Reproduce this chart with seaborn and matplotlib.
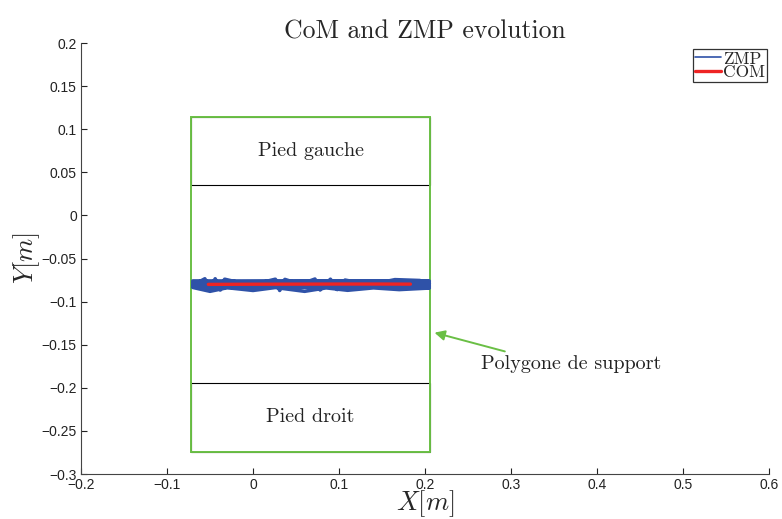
import matplotlib
matplotlib.use("Agg")
import matplotlib.pyplot as plt
import matplotlib.patches as mpatches
import seaborn as sns

# support polygon / feet (m)
poly_x = [-0.072, 0.206]
poly_y = [-0.274, 0.114]
foot_left_y = [0.0355, 0.114]
foot_right_y = [-0.274, -0.194]

# ZMP trajectory (horizontal sweeps with spikes)
zmp_x = [-0.070, 0.205, -0.068, 0.204, -0.070, 0.205, -0.069, 0.204, -0.070,
         -0.056, -0.050, -0.044, -0.038, -0.033, -0.003, 0.026, 0.031, 0.037,
         0.055, 0.072, 0.078, 0.090, 0.098, 0.107, 0.136, 0.165, 0.194, 0.205,
         -0.070, 0.205, -0.070, -0.050, -0.030, 0.000, 0.026, 0.060, 0.085,
         0.110, 0.140, 0.170, 0.205, -0.068, 0.205]
zmp_y = [-0.0760, -0.0762, -0.0772, -0.0775, -0.0785, -0.0787, -0.0797, -0.0800, -0.0810,
         -0.0735, -0.0870, -0.0735, -0.0865, -0.0740, -0.0810, -0.0740, -0.0870, -0.0742,
         -0.0800, -0.0738, -0.0865, -0.0740, -0.0860, -0.0750, -0.0805, -0.0745, -0.0755, -0.0812,
         -0.0822, -0.0825, -0.0835, -0.0880, -0.0838, -0.0870, -0.0836, -0.0880, -0.0840,
         -0.0868, -0.0840, -0.0860, -0.0842, -0.0790, -0.0792]

# CoM trajectory
com_x = [-0.052, 0.0, 0.05, 0.10, 0.15, 0.183]
com_y = [-0.0800, -0.0798, -0.0797, -0.0796, -0.0796, -0.0797]

x_ticks = [-0.2, -0.1, 0, 0.1, 0.2, 0.3, 0.4, 0.5, 0.6]
y_ticks = [-0.3, -0.25, -0.2, -0.15, -0.1, -0.05, 0, 0.05, 0.1, 0.15, 0.2]

sns.set_theme(style="white")
plt.rcParams["mathtext.fontset"] = "cm"
plt.rcParams["font.family"] = ["Liberation Sans", "DejaVu Sans"]

green = "#6abf45"
blue = "#2f52a8"
red = "#ee2424"
serif = ["cmr10", "DejaVu Serif"]

fig = plt.figure(figsize=(7.82, 5.19), dpi=100, facecolor="white")
ax = fig.add_axes([0.1036, 0.0867, 0.8798, 0.8303])

# feet
for fy in (foot_left_y, foot_right_y):
    ax.add_patch(mpatches.Rectangle((poly_x[0], fy[0]), poly_x[1] - poly_x[0], fy[1] - fy[0],
                                    fill=False, edgecolor="black", linewidth=0.8, zorder=2))
# support polygon
ax.add_patch(mpatches.Rectangle((poly_x[0], poly_y[0]), poly_x[1] - poly_x[0], poly_y[1] - poly_y[0],
                                fill=False, edgecolor=green, linewidth=1.4, zorder=3))

sns.lineplot(x=zmp_x, y=zmp_y, sort=False, estimator=None, ax=ax, color=blue,
             linewidth=2.6, label="ZMP", zorder=4)
sns.lineplot(x=com_x, y=com_y, sort=False, estimator=None, ax=ax, color=red,
             linewidth=2.4, label="COM", zorder=5)

ax.text(0.067, 0.075, "Pied gauche", ha="center", va="center", fontsize=14.5,
        family=serif, color="#222222")
ax.text(0.067, -0.234, "Pied droit", ha="center", va="center", fontsize=14.5,
        family=serif, color="#222222")
ax.annotate("Polygone de support", xy=(0.211, -0.136), xytext=(0.37, -0.172),
            ha="center", va="center", fontsize=14.5, family=serif, color="#222222",
            arrowprops=dict(arrowstyle="-|>", color=green, lw=1.4,
                            shrinkA=0, shrinkB=0, mutation_scale=15,
                            relpos=(0.2, 1.0)))

ax.set_xlim(-0.2, 0.6)
ax.set_ylim(-0.3, 0.2)
ax.set_xticks(x_ticks)
ax.set_yticks(y_ticks)
ax.set_xticklabels([f"{v:g}".replace("-", "\u2212") for v in x_ticks])
ax.set_yticklabels([f"{v:g}".replace("-", "\u2212") for v in y_ticks])
ax.tick_params(direction="in", length=4, width=0.8, labelsize=10, colors="#222222",
               left=True, bottom=True, pad=3)
for s in ("top", "right"):
    ax.spines[s].set_visible(False)
for s in ("left", "bottom"):
    ax.spines[s].set_color("#444444")
    ax.spines[s].set_linewidth(0.8)

ax.set_title("CoM and ZMP evolution", fontsize=18.5, family=serif, pad=3)
ax.set_xlabel("$X[m]$", fontsize=19, labelpad=-3)
ax.set_ylabel("$Y[m]$", fontsize=19, labelpad=0)

leg = ax.legend(loc="upper right", bbox_to_anchor=(1.0, 0.99), prop={"family": serif, "size": 12.5},
                frameon=True, fancybox=False, edgecolor="black", handlelength=1.5,
                handletextpad=0.1, labelspacing=-0.1, borderpad=0.12, borderaxespad=0.1)
leg.get_frame().set_linewidth(0.9)
leg.legend_handles[0].set_color(blue)
leg.legend_handles[0].set_linewidth(1.2)
leg.legend_handles[1].set_color(red)

fig.savefig("out.png", dpi=100, facecolor="white")
